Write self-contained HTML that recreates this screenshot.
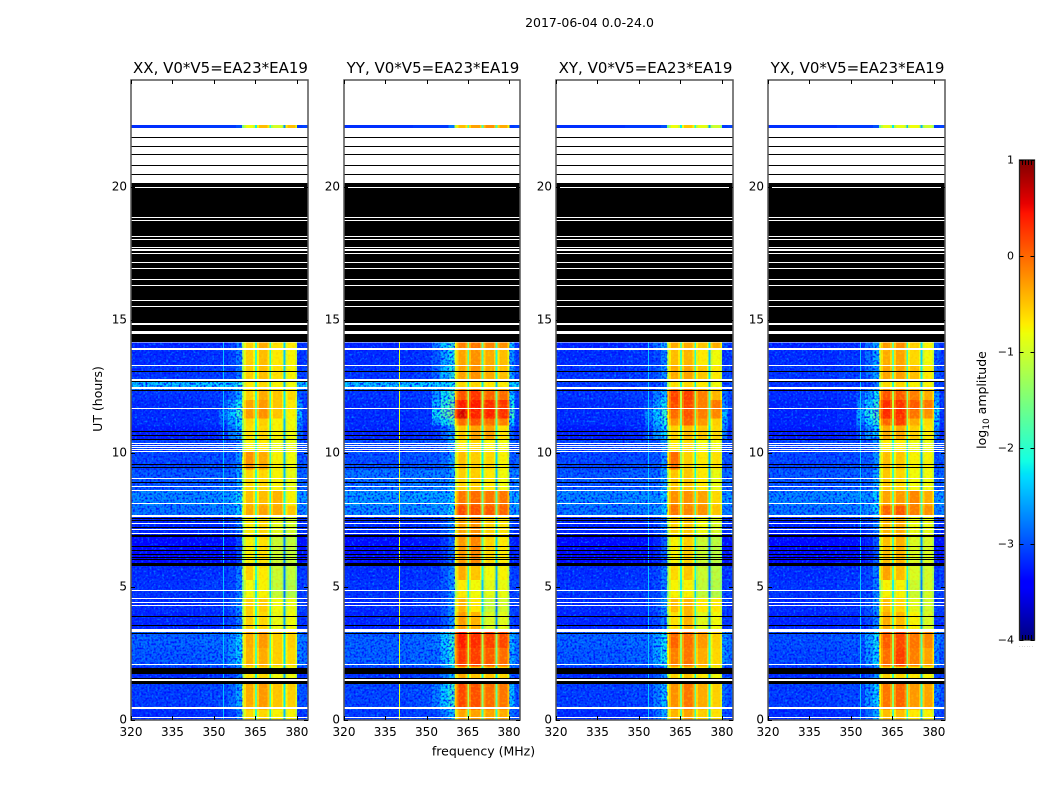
<!DOCTYPE html>
<html lang="en">
<head>
<meta charset="utf-8">
<title>2017-06-04 0.0-24.0</title>
<style>
html,body{margin:0;padding:0;background:#fff;}
#figure{display:block;width:1050px;height:800px;}
text{font-family:"DejaVu Sans","Liberation Sans",sans-serif;fill:#000;}
</style>
</head>
<body>
<svg id="figure" xmlns="http://www.w3.org/2000/svg" width="1050" height="800" viewBox="0 0 1050 800">
  <defs>
    <filter id="grain-light" x="0" y="0" width="1" height="1" color-interpolation-filters="sRGB">
      <feTurbulence type="fractalNoise" baseFrequency="0.48" numOctaves="1" seed="4"/>
      <feColorMatrix type="matrix" values="0 0 0 0 0  0 0 0 0 0.6  0 0 0 0 1  2.6 0 0 0 -1.3"/>
    </filter>
    <filter id="grain-dark" x="0" y="0" width="1" height="1" color-interpolation-filters="sRGB">
      <feTurbulence type="fractalNoise" baseFrequency="0.48" numOctaves="1" seed="11"/>
      <feColorMatrix type="matrix" values="0 0 0 0 0  0 0 0 0 0.04  0 0 0 0 1  0 3.2 0 0 -1.4"/>
    </filter>
    <filter id="grain-yellow" x="0" y="0" width="1" height="1" color-interpolation-filters="sRGB">
      <feTurbulence type="fractalNoise" baseFrequency="0.42" numOctaves="1" seed="7"/>
      <feColorMatrix type="matrix" values="0 0 0 0 1  0 0 0 0 0.95  0 0 0 0 0  2.6 0 0 0 -1.25"/>
    </filter>
    <filter id="grain-orange" x="0" y="0" width="1" height="1" color-interpolation-filters="sRGB">
      <feTurbulence type="fractalNoise" baseFrequency="0.42" numOctaves="1" seed="19"/>
      <feColorMatrix type="matrix" values="0 0 0 0 1  0 0 0 0 0.5  0 0 0 0 0  0 2.6 0 0 -1.25"/>
    </filter>
  </defs>
  <rect x="0" y="0" width="1050" height="800" fill="#ffffff"/>
  <text x="589.5" y="27" font-size="12.5" text-anchor="middle">2017-06-04 0.0-24.0</text>
  <g id="panels"></g>
  <text x="483.5" y="755.5" font-size="12.5" text-anchor="middle">frequency (MHz)</text>
  <text transform="translate(102,399) rotate(-90)" font-size="12.5" text-anchor="middle">UT (hours)</text>
  <g id="colorbar"></g>
  <text transform="translate(986,400) rotate(-90)" font-size="12.5" text-anchor="middle">log<tspan font-size="9" dy="3">10</tspan><tspan dy="-3"> amplitude</tspan></text>
  <text x="1026.5" y="647" font-size="5" text-anchor="middle" style="fill:#888" letter-spacing="0.9">......</text>
</svg>
<script>
// Axis tick labels
const freqTicks = [320, 335, 350, 365, 380];
const hourTicks = [0, 5, 10, 15, 20];
const colorbarTicks = [1, 0, -1, -2, -3, -4];

// Panel titles
const polarizations = ['XX', 'YY', 'XY', 'YX'];
const baselineLabel = 'V0*V5=EA23*EA19';

// Time segments, hours (27 segments; index 25 has no data)
const timeEdges = [0, .4, 1.4, 2.0, 2.7, 3.3, 4.05, 4.6, 5.25, 5.8, 6.95, 7.65, 8.05, 8.6, 9.4, 10.05, 10.5, 11.05, 11.3, 11.65, 12.0, 12.4, 12.75, 13.3, 13.9, 14.15, 22.2, 22.31];

// Frequency channels, MHz, and which series each channel follows
const channelEdges = [320, 345, 352, 355, 358, 360.2, 360.9, 361.6, 364.2, 364.9, 365.5, 366.2, 369.4, 370, 370.7, 371.4, 374.6, 375.1, 375.8, 376.5, 379.4, 380.1, 382, 384];
const channelSource = ['bg', 'bg', 'wing', 'wing', 'wing', 's1', 's1', 's1', 's1', 's1', 's2', 's2', 's2', 's2', 's3', 's3', 's3', 's3', 's4', 's4', 's4', 'wing', 'bg'];
const channelOffset = [-.15, -.1, -.7, -.3, 0, -.7, -.3, 0, -.25, -1.4, -.3, 0, -.25, -1.6, -.25, 0, -.25, -1.7, -.25, 0, -.4, -.4, -.05];

// log10 amplitude per time segment: background, wing, four sub-bands
const xxBg = [-3, -2.9, -3, -2.75, -2.7, -3.05, -3, -2.95, -3, -3.25, -3.05, -2.6, -2.5, -2.75, -2.85, -2.85, -3.1, -3, -3, -3, -2.95, -2.2, -2.95, -3, -3.05, null, -3];
const xxWing = [-2.7, -2.5, -2.7, -2.3, -2.3, -2.7, -2.6, -2.7, -2.7, -3, -2.7, -2.3, -2.2, -2.5, -2.6, -2.6, -2.4, -2.2, -2, -2.2, -2.5, -2.1, -2.7, -2.7, -2.7, null, -3];
const xxS1 = [-.6, -.35, -.7, -.4, -.35, -.55, -.55, -.8, -.55, -.75, -.7, -.35, -.45, -.6, -.2, -.75, -.65, -.6, -.25, -.3, -.55, -.7, -.55, -.55, -.55, null, -.8];
const xxS2 = [-.6, -.25, -.6, -.35, -.25, -.6, -.55, -.75, -.7, -.65, -.6, -.3, -.45, -.6, -.35, -.7, -.6, -.55, -.2, -.25, -.35, -.6, -.45, -.45, -.35, null, -.45];
const xxS3 = [-.75, -.5, -.8, -.55, -.55, -.85, -.8, -1.1, -1.05, -1.05, -.9, -.35, -.4, -.75, -.75, -.85, -.75, -.75, -.5, -.5, -.5, -.75, -.65, -.7, -.65, null, -.95];
const xxS4 = [-.75, -.55, -.8, -.6, -.55, -.8, -.85, -1.2, -1.1, -1.1, -1, -.5, -.75, -.85, -.8, -.85, -.8, -.8, -.75, -.7, -.6, -.8, -.75, -.75, -.7, null, -.45];

const yyBg = [-2.9, -2.85, -2.95, -2.7, -2.7, -3.05, -3, -2.95, -3, -3.2, -3, -2.5, -2.4, -2.6, -2.8, -2.8, -3.05, -3, -3, -3, -2.95, -2.2, -2.95, -3, -3.05, null, -3];
const yyWing = [-2.4, -2, -2.4, -2.1, -2, -2.6, -2.6, -2.6, -2.6, -2.8, -2.6, -2.2, -2.3, -2.5, -2.5, -2.5, -2.5, -1.9, -1.5, -1.7, -1.9, -2.2, -2.1, -2.2, -2, null, -2.8];
const yyS1 = [-.3, .2, -.35, .3, .45, -.25, -.4, -.7, -.35, -.25, -.3, .2, -.05, -.55, -.45, -.7, -.5, 0, .65, .45, .15, -.6, -.3, -.3, -.1, null, -.45];
const yyS2 = [-.3, .15, -.5, .25, .35, -.4, -.7, -.8, -.5, -.15, -.2, .15, 0, -.55, -.55, -.6, -.3, .15, .4, .45, .3, -.6, -.2, -.2, -.05, null, -.3];
const yyS3 = [-.3, 0, -.5, .1, .25, -.95, -1.1, -.9, -.8, -.6, -.55, .1, -.05, -.7, -.6, -.75, -.3, 0, .4, .35, .05, -.7, -.35, -.35, -.15, null, -.2];
const yyS4 = [-.35, -.05, -.6, 0, .2, -.9, -1, -.85, -.75, -.7, -.65, .05, -.05, -.8, -.75, -.8, -.65, -.1, .35, .3, 0, -.7, -.45, -.45, -.2, null, -.35];

const xyBg = [-3, -2.9, -3, -2.75, -2.7, -3.05, -3, -2.95, -3, -3.25, -3.05, -2.6, -2.5, -2.75, -2.85, -2.85, -3.1, -3, -3, -3, -2.95, -2.9, -2.95, -3, -3.05, null, -3];
const xyWing = [-2.5, -2.4, -2.6, -2.2, -2.2, -2.7, -2.6, -2.7, -2.7, -2.9, -2.7, -2.3, -2.3, -2.5, -2.6, -2.6, -2.3, -2.1, -2, -2.2, -2.4, -2.7, -2.6, -2.7, -2.5, null, -3];
const xyS1 = [-.4, -.2, -.6, -.1, .05, -.65, -.45, -.75, -.6, -.75, -.55, -.05, -.2, -.5, 0, -.7, -.55, -.2, 0, .2, .25, -.65, -.35, -.45, -.35, null, -.8];
const xyS2 = [-.3, -.05, -.5, -.05, 0, -.4, -.4, -.75, -.5, -.55, -.5, -.15, -.2, -.5, -.55, -.6, -.45, .05, .15, .2, .25, -.6, -.3, -.4, -.35, null, -.5];
const xyS3 = [-.55, -.35, -.7, -.35, -.25, -.9, -.7, -1.1, -1.05, -1.05, -.8, -.2, -.3, -.7, -.7, -.8, -.5, -.25, -.1, -.1, -.1, -.7, -.5, -.7, -.5, null, -.85];
const xyS4 = [-.65, -.55, -.8, -.6, -.55, -.8, -.7, -1.2, -1.15, -1.15, -.95, -.5, -.6, -.85, -.65, -.8, -.6, -.55, -.15, -.05, -.4, -.8, -.7, -.8, -.35, null, -1];

const yxBg = [-3, -2.9, -3, -2.85, -2.8, -3.05, -3, -2.95, -3, -3.25, -3.05, -2.6, -2.5, -2.75, -2.85, -2.85, -3.1, -3.05, -3.05, -3.05, -3, -2.95, -2.95, -3, -3.05, null, -3];
const yxWing = [-2.5, -2.3, -2.6, -2.3, -2.2, -2.7, -2.6, -2.7, -2.7, -2.9, -2.7, -2.3, -2.3, -2.5, -2.6, -2.6, -2.3, -2, -1.8, -2, -2.2, -2.7, -2.5, -2.5, -2.5, null, -3];
const yxS1 = [-.45, -.05, -.55, 0, .1, -.35, -.45, -.75, -.3, -.45, -.4, .05, -.3, -.5, -.45, -.7, -.35, .05, .35, .35, .15, -.6, -.3, -.35, -.25, null, -.85];
const yxS2 = [-.45, .05, -.6, .25, .2, -.45, -.6, -.75, -.45, -.4, -.35, .1, -.25, -.6, -.5, -.7, -.35, .25, .35, .3, .1, -.6, -.3, -.3, -.2, null, -.85];
const yxS3 = [-.7, -.25, -.7, -.1, -.05, -.75, -.9, -1.05, -.95, -.95, -.85, -.1, -.15, -.8, -.75, -.85, -.55, -.35, -.05, .1, -.1, -.75, -.45, -.6, -.55, null, -.8];
const yxS4 = [-.75, -.3, -.75, -.3, -.15, -.95, -1, -1, -1, -.95, -.85, -.2, -.35, -.8, -.75, -.85, -.7, -.6, -.2, -.05, -.35, -.75, -.7, -.8, -.75, null, -1];

const seriesByPol = {
  XX: {bg: xxBg, wing: xxWing, s1: xxS1, s2: xxS2, s3: xxS3, s4: xxS4},
  YY: {bg: yyBg, wing: yyWing, s1: yyS1, s2: yyS2, s3: yyS3, s4: yyS4},
  XY: {bg: xyBg, wing: xyWing, s1: xyS1, s2: xyS2, s3: xyS3, s4: xyS4},
  YX: {bg: yxBg, wing: yxWing, s1: yxS1, s2: yxS2, s3: yxS3, s4: yxS4}
};

// Interference lines: MHz, log10 amplitude
const rfiFreq = {XX: 353.2, YY: 340, XY: 353.2, YX: 353.2};
const rfiLevel = {XX: -2.4, YY: -.9, XY: -2.4, YX: -2.4};

// Flagged time ranges, hours (drawn on every panel)
const flaggedBlack = [[14.16, 20.14], [1.35, 1.46], [1.54, 1.58], [1.72, 1.94], [3.25, 3.28], [3.52, 3.58], [3.86, 3.89], [5.79, 5.87], [5.99, 6.02], [6.08, 6.11], [6.2, 6.23], [6.36, 6.39], [6.49, 6.54], [6.85, 6.95], [7.21, 7.24], [7.46, 7.49], [7.55, 7.58], [8.9, 8.93], [9.46, 9.49], [9.58, 9.61], [10.51, 10.54], [10.65, 10.68], [10.8, 10.83], [12.36, 12.39], [12.68, 12.72], [13.05, 13.08], [20.46, 20.49], [20.8, 20.83], [21.18, 21.21], [21.51, 21.54], [21.85, 21.88]];
const flaggedWhite = [[.07, .12], [.41, .49], [1.46, 1.54], [2.05, 2.09], [3.3, 3.43], [4.29, 4.33], [4.37, 4.41], [4.55, 4.58], [4.85, 4.88], [6.98, 7.02], [7.13, 7.16], [7.36, 7.39], [7.6, 7.68], [8.11, 8.14], [8.58, 8.61], [8.73, 8.76], [9.05, 9.08], [10.07, 10.1], [10.15, 10.18], [10.21, 10.24], [10.29, 10.32], [10.35, 10.38], [11.67, 11.7], [12.42, 12.48], [12.73, 12.77], [13.29, 13.32], [13.87, 13.95], [14.46, 14.6], [14.83, 14.89], [15.48, 15.52], [15.7, 15.74], [16.26, 16.3], [16.49, 16.53], [16.9, 16.94], [17.13, 17.17], [17.46, 17.5], [17.57, 17.61], [17.63, 17.67], [17.69, 17.73], [17.99, 18.03], [18.1, 18.14], [18.7, 18.74], [18.81, 18.85], [19.94, 19.98]];

const svgNS = 'http://www.w3.org/2000/svg';
const panelLefts = [131, 344, 556, 768];
const panelWidths = [177, 176, 177, 177];
const plotTop = 80;
const plotBottom = 720;
const freqMin = 320;
const freqMax = 384;
const hourMax = 24;
const ampMin = -4;
const ampMax = 1;

function yScale(h) { return plotBottom - (h / hourMax) * (plotBottom - plotTop); }
function makeXScale(left, width) { return function (f) { return left + ((f - freqMin) / (freqMax - freqMin)) * width; }; }

function ramp(t, pts) {
  if (t <= pts[0][0]) return pts[0][1];
  for (let i = 1; i < pts.length; i++) {
    if (t <= pts[i][0]) {
      const a = pts[i - 1], b = pts[i];
      return a[1] + (b[1] - a[1]) * (t - a[0]) / (b[0] - a[0]);
    }
  }
  return pts[pts.length - 1][1];
}
function jet(t) {
  const r = ramp(t, [[0, 0], [.35, 0], [.66, 1], [.89, 1], [1, .5]]);
  const g = ramp(t, [[0, 0], [.125, 0], [.375, 1], [.64, 1], [.91, 0], [1, 0]]);
  const b = ramp(t, [[0, .5], [.11, 1], [.34, 1], [.65, 0], [1, 0]]);
  return 'rgb(' + Math.round(r * 255) + ',' + Math.round(g * 255) + ',' + Math.round(b * 255) + ')';
}
function ampColor(v) { return jet((v - ampMin) / (ampMax - ampMin)); }

function addRect(parent, x, y, w, h, fill) {
  const r = document.createElementNS(svgNS, 'rect');
  r.setAttribute('x', x);
  r.setAttribute('y', y);
  r.setAttribute('width', w);
  r.setAttribute('height', h);
  r.setAttribute('fill', fill);
  parent.appendChild(r);
  return r;
}
function addLine(parent, x1, y1, x2, y2) {
  const l = document.createElementNS(svgNS, 'line');
  l.setAttribute('x1', x1);
  l.setAttribute('y1', y1);
  l.setAttribute('x2', x2);
  l.setAttribute('y2', y2);
  l.setAttribute('stroke', '#000');
  l.setAttribute('stroke-width', '1');
  parent.appendChild(l);
  return l;
}
function addText(parent, x, y, str, size, anchor) {
  const t = document.createElementNS(svgNS, 'text');
  t.setAttribute('x', x);
  t.setAttribute('y', y);
  t.setAttribute('font-size', size);
  t.setAttribute('text-anchor', anchor);
  t.textContent = str;
  parent.appendChild(t);
  return t;
}

function drawPanel(pol, left, panelWidth) {
  const root = document.getElementById('panels');
  const x = makeXScale(left, panelWidth);
  const series = seriesByPol[pol];
  const g = document.createElementNS(svgNS, 'g');
  
  
  root.appendChild(g);

  const heat = document.createElementNS(svgNS, 'g');
  
  
  heat.setAttribute('shape-rendering', 'crispEdges');
  g.appendChild(heat);

  for (let s = 0; s < timeEdges.length - 1; s++) {
    if (series.bg[s] === null) continue;
    const y1 = yScale(timeEdges[s + 1]);
    const y0 = yScale(timeEdges[s]);
    for (let c = 0; c < channelSource.length; c++) {
      let v = series[channelSource[c]][s] + channelOffset[c];
      if (channelSource[c] === 'wing') v = Math.max(v, series.bg[s] - 0.1);
      const x0 = x(channelEdges[c]);
      const x1 = x(channelEdges[c + 1]);
      const cell = addRect(heat, x0, y1, x1 - x0, y0 - y1, ampColor(v));
      
      
    }
  }

  // fine speckle texture over the noise floor and the passband
  const grainTop = yScale(timeEdges[25]);
  const floorSpans = [[freqMin, 360.2], [380.1, freqMax]];
  floorSpans.forEach(function (sp) {
    const gx = x(sp[0]);
    const gw = x(sp[1]) - gx;
    const light = addRect(heat, gx, grainTop, gw, plotBottom - grainTop, '#000');
    light.setAttribute('filter', 'url(#grain-light)');
    
    
    const dark = addRect(heat, gx, grainTop, gw, plotBottom - grainTop, '#000');
    dark.setAttribute('filter', 'url(#grain-dark)');
    
    
  });
  const bandSpans = [[360.9, 364.9], [365.5, 370], [370.7, 375.1], [375.8, 380.1]];
  bandSpans.forEach(function (sp) {
    const gx = x(sp[0]);
    const gw = x(sp[1]) - gx;
    const yellow = addRect(heat, gx, grainTop, gw, plotBottom - grainTop, '#000');
    yellow.setAttribute('filter', 'url(#grain-yellow)');
    yellow.setAttribute('opacity', '0.35');
    
    
    const orange = addRect(heat, gx, grainTop, gw, plotBottom - grainTop, '#000');
    orange.setAttribute('filter', 'url(#grain-orange)');
    orange.setAttribute('opacity', '0.25');
    
    
  });

  for (let s = 0; s < timeEdges.length - 2; s++) {
    if (series.bg[s] === null) continue;
    const y1 = yScale(timeEdges[s + 1]);
    const y0 = yScale(timeEdges[s]);
    const rx = x(rfiFreq[pol]);
    const rfi = addRect(heat, rx, y1, 1, y0 - y1, ampColor(rfiLevel[pol]));
    
    
  }

  const flags = document.createElementNS(svgNS, 'g');
  
  
  flags.setAttribute('shape-rendering', 'crispEdges');
  g.appendChild(flags);
  flaggedBlack.forEach(function (f) {
    const top = Math.round(yScale(f[1]));
    const h = Math.max(1, Math.round(yScale(f[0])) - top);
    const r = addRect(flags, left, top, panelWidth, h, '#000');
    
    
  });
  flaggedWhite.forEach(function (f) {
    const top = Math.round(yScale(f[1]));
    const h = Math.max(1, Math.round(yScale(f[0])) - top);
    const r = addRect(flags, left, top, panelWidth, h, '#fff');
    
    
  });

  // frame
  const frame = addRect(g, left, plotTop, panelWidth, plotBottom - plotTop, 'none');
  frame.setAttribute('stroke', '#555');
  frame.setAttribute('stroke-width', '1.5');
  
  

  // ticks and labels
  freqTicks.forEach(function (f) {
    const tx = Math.round(x(f)) + 0.5;
    const a = addLine(g, tx, plotBottom, tx, plotBottom - 4);
    
    
    const b = addLine(g, tx, plotTop, tx, plotTop + 4);
    
    
    const lab = addText(g, x(f), 736, String(f), 12, 'middle');
    
    
  });
  hourTicks.forEach(function (h) {
    const ty = Math.round(yScale(h)) + 0.5;
    const a = addLine(g, left, ty, left + 4, ty);
    
    
    const b = addLine(g, left + panelWidth, ty, left + panelWidth - 4, ty);
    
    
    const lab = addText(g, left - 4, ty + 3, String(h), 12, 'end');
    
    
  });

  const title = addText(g, left + panelWidth / 2 + 1, 73, pol + ', ' + baselineLabel, 15, 'middle');
  
  
}

function drawColorbar() {
  const g = document.getElementById('colorbar');
  const left = 1019.5, width = 15, top = 160, bottom = 640;
  const yAmp = function (v) { return bottom - (v - ampMin) / (ampMax - ampMin) * (bottom - top); };
  const steps = 240;
  const body = document.createElementNS(svgNS, 'g');
  
  
  body.setAttribute('shape-rendering', 'crispEdges');
  g.appendChild(body);
  for (let i = 0; i < steps; i++) {
    const v0 = ampMin + (ampMax - ampMin) * i / steps;
    const v1 = ampMin + (ampMax - ampMin) * (i + 1) / steps;
    const seg = addRect(body, left, yAmp(v1), width, yAmp(v0) - yAmp(v1) + 0.5, ampColor((v0 + v1) / 2));
    
    
  }
  const frame = addRect(g, left, top, width, bottom - top, 'none');
  frame.setAttribute('stroke', '#222');
  frame.setAttribute('stroke-width', '1.3');
  
  
  colorbarTicks.forEach(function (v) {
    const ty = Math.round(yAmp(v)) + 0.5;
    const a = addLine(g, left, ty, left + 4, ty);
    
    
    const b = addLine(g, left + width, ty, left + width - 4, ty);
    
    
    const str = v < 0 ? '\u2212' + Math.abs(v) : String(v);
    const lab = addText(g, left - 5.5, ty + 3, str, 11, 'end');
    
    
  });
  for (let i = 1; i <= 4; i++) {
    const tx = left + i * width / 5;
    const a = addLine(g, tx, top, tx, top + 5);
    
    
    const b = addLine(g, tx, bottom, tx, bottom - 5);
    
    
  }
}

polarizations.forEach(function (pol, i) { drawPanel(pol, panelLefts[i], panelWidths[i]); });
drawColorbar();
</script>
</body>
</html>
